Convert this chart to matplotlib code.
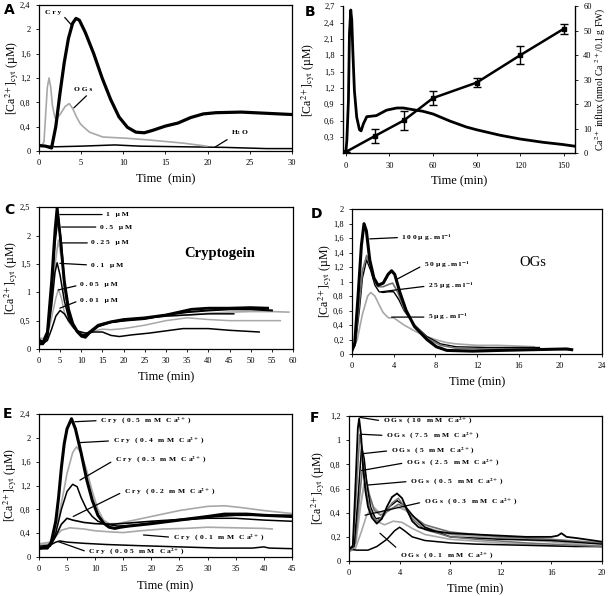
import matplotlib
matplotlib.use("Agg")
import matplotlib.pyplot as plt
from matplotlib.ticker import FuncFormatter

plt.rcParams['font.family'] = ['Liberation Serif', 'DejaVu Serif']
plt.rcParams['mathtext.fontset'] = 'stix'

GRAY = '#a8a8a8'
DARK = '#707070'

# ---------------- panel A : Cry / OGs / H2O
a_cry_t = [0, 0.8, 1.5, 2, 2.5, 3, 3.5, 4, 4.4, 4.8, 5.5, 6.5, 7.5, 8.5, 9.5, 10.5, 11.5, 12.5, 13.5, 15, 16.5, 18, 19.5, 21, 24, 27, 30]
a_cry_y = [0.09, 0.08, 0.05, 0.4, 0.95, 1.45, 1.85, 2.1, 2.18, 2.15, 1.95, 1.6, 1.2, 0.85, 0.56, 0.39, 0.31, 0.3, 0.34, 0.41, 0.46, 0.55, 0.61, 0.63, 0.64, 0.62, 0.6]
a_ogs_t = [0, 0.4, 0.6, 0.8, 1.0, 1.2, 1.4, 1.6, 1.9, 2.1, 2.6, 3.1, 3.6, 4.0, 4.5, 4.9, 5.5, 6.0, 7.6, 10.4, 13.2, 17.1, 19.9]
a_ogs_y = [0.09, 0.1, 0.15, 0.6, 1.05, 1.2, 1.05, 0.75, 0.55, 0.53, 0.62, 0.73, 0.78, 0.7, 0.55, 0.45, 0.37, 0.31, 0.23, 0.21, 0.18, 0.13, 0.08]
a_h2o_t = [0, 2, 5, 9, 12, 17, 22, 27, 30]
a_h2o_y = [0.09, 0.07, 0.08, 0.1, 0.08, 0.07, 0.06, 0.04, 0.04]

# ---------------- panel B : [Ca2+]cyt and Ca2+ influx
b_ca_t = [0, 0.7, 1.8, 2.5, 3.4, 4.1, 4.8, 5.9, 7.5, 9.4, 10.5, 12.1, 14.4, 21, 28, 35, 39.6, 46, 53, 60, 71.6, 83, 90, 106, 120, 135.6, 149, 157]
b_ca_y = [0.02, 0.23, 0.97, 2.2, 2.63, 2.44, 1.89, 1.15, 0.66, 0.43, 0.41, 0.54, 0.67, 0.69, 0.79, 0.83, 0.83, 0.8, 0.77, 0.72, 0.59, 0.48, 0.43, 0.33, 0.26, 0.2, 0.16, 0.13]
b_flux_t = [0, 20, 40, 60, 90, 120, 150]
b_flux_y = [0.5, 7, 13.4, 22.5, 28.8, 40, 50.8]
b_flux_err = [0, 3, 4, 3, 1.7, 3.8, 2]

# ---------------- panel C : cryptogein doses
c_1_t = [0, 1, 2, 3, 3.8, 4.3, 5, 6, 7, 8, 9, 10, 10.7, 12, 14, 17, 20, 25, 30, 33, 36, 40, 45, 50, 54]
c_1_y = [0.16, 0.12, 0.3, 1.2, 2.1, 2.5, 2.0, 1.2, 0.7, 0.45, 0.32, 0.25, 0.22, 0.3, 0.42, 0.48, 0.52, 0.55, 0.6, 0.65, 0.7, 0.72, 0.72, 0.73, 0.72]
c_05_t = [0, 1, 2, 3, 3.8, 4.5, 5.2, 6, 7, 8, 9, 10, 11, 12, 14, 17, 20, 25, 30, 35, 40, 45, 50, 55]
c_05_y = [0.1, 0.1, 0.25, 1.0, 1.9, 2.35, 1.9, 1.15, 0.65, 0.42, 0.3, 0.22, 0.2, 0.28, 0.4, 0.47, 0.5, 0.53, 0.6, 0.65, 0.68, 0.7, 0.7, 0.68]
c_025_t = [0, 1, 2, 3, 4, 4.6, 5.3, 6, 7, 8, 9, 10, 11, 12, 14, 17, 20, 25, 30, 35, 40, 45, 50, 55, 59]
c_025_y = [0.2, 0.18, 0.3, 0.9, 1.6, 1.92, 1.6, 1.0, 0.62, 0.42, 0.32, 0.27, 0.25, 0.3, 0.4, 0.48, 0.52, 0.55, 0.58, 0.6, 0.63, 0.65, 0.66, 0.66, 0.65]
c_01_t = [0, 1, 2, 3, 3.8, 4.3, 5, 6, 7, 8, 9, 10, 11, 12, 14, 17, 20, 25, 30, 35, 40, 46]
c_01_y = [0.08, 0.08, 0.2, 0.75, 1.35, 1.52, 1.3, 0.85, 0.55, 0.4, 0.3, 0.25, 0.25, 0.3, 0.4, 0.47, 0.5, 0.54, 0.58, 0.6, 0.62, 0.62]
c_005_t = [0, 1, 2, 3, 4, 4.6, 5.3, 6, 7, 8, 9, 10, 11, 13, 15, 17, 20, 25, 30, 35, 40, 45, 50, 57]
c_005_y = [0.12, 0.12, 0.22, 0.55, 0.9, 1.05, 0.9, 0.65, 0.48, 0.38, 0.32, 0.28, 0.28, 0.32, 0.35, 0.34, 0.36, 0.42, 0.5, 0.55, 0.52, 0.5, 0.5, 0.5]
c_001_t = [0, 1, 2, 3, 4, 5, 6, 7, 8, 9, 11, 13, 15, 17, 19, 22, 26, 30, 34, 40, 45, 52]
c_001_y = [0.1, 0.1, 0.15, 0.35, 0.58, 0.68, 0.62, 0.5, 0.4, 0.32, 0.28, 0.3, 0.3, 0.24, 0.22, 0.25, 0.28, 0.32, 0.36, 0.36, 0.33, 0.3]

# ---------------- panel D : OGs doses
d_100_t = [0, 0.26, 0.58, 0.9, 1.15, 1.38, 1.7, 2.1, 2.5, 3.0, 3.46, 3.8, 4.1, 4.6, 5.2, 6.0, 7.2, 8.1, 9.1, 11.6, 14.2, 17.4, 20.6, 21.1]
d_100_y = [0.05, 0.15, 0.8, 1.5, 1.8, 1.7, 1.3, 1.05, 0.95, 0.98, 1.1, 1.15, 1.1, 0.85, 0.6, 0.38, 0.2, 0.1, 0.05, 0.04, 0.05, 0.06, 0.07, 0.06]
d_50_t = [0, 0.3, 0.7, 1.0, 1.4, 1.8, 2.2, 2.5, 3.0, 3.5, 3.9, 4.4, 5.0, 6.0, 7.2, 8.5, 10, 13, 16, 19, 21]
d_50_y = [0.05, 0.15, 0.7, 1.15, 1.36, 1.2, 1.0, 0.93, 0.93, 0.96, 0.98, 0.85, 0.62, 0.4, 0.22, 0.12, 0.08, 0.07, 0.07, 0.07, 0.06]
d_25_t = [0, 0.3, 0.7, 1.0, 1.4, 1.8, 2.2, 2.6, 3.0, 3.5, 4.0, 4.5, 5.0, 6.0, 7.2, 8.5, 10, 13, 16, 18]
d_25_y = [0.05, 0.12, 0.6, 1.05, 1.3, 1.15, 0.95, 0.86, 0.85, 0.86, 0.86, 0.75, 0.6, 0.4, 0.24, 0.14, 0.1, 0.09, 0.09, 0.09]
d_5_t = [0, 0.5, 1, 1.5, 1.8, 2.2, 2.6, 3.0, 3.5, 4, 4.5, 5, 6, 7, 8, 9, 10, 12, 14, 16, 17.5]
d_5_y = [0.05, 0.2, 0.55, 0.8, 0.85, 0.8, 0.68, 0.57, 0.5, 0.5, 0.45, 0.4, 0.32, 0.25, 0.2, 0.16, 0.14, 0.12, 0.12, 0.11, 0.1]

# ---------------- panel E : Cry, external Ca2+
e_05_t = [0, 1.5, 2.2, 3, 3.5, 4, 4.5, 5, 5.8, 6.5, 7.5, 8.5, 9.5, 10.5, 11.5, 12.5, 13.5, 14.5, 16, 20, 25, 30, 33, 37, 40, 45]
e_05_y = [0.15, 0.15, 0.25, 0.6, 1.0, 1.5, 1.9, 2.15, 2.32, 2.15, 1.75, 1.3, 0.95, 0.7, 0.57, 0.5, 0.48, 0.5, 0.52, 0.56, 0.62, 0.68, 0.72, 0.72, 0.7, 0.68]
e_04_t = [0, 2, 3, 4, 5, 6, 6.7, 7.5, 8.5, 9.5, 10.5, 11.5, 12.5, 14, 16, 20, 25, 30, 33, 36, 40, 45]
e_04_y = [0.22, 0.25, 0.45, 0.9, 1.4, 1.75, 1.85, 1.75, 1.45, 1.1, 0.8, 0.62, 0.56, 0.56, 0.6, 0.68, 0.78, 0.85, 0.86, 0.83, 0.78, 0.73]
e_03_t = [0, 2, 3, 4, 5, 6, 6.8, 7.5, 8.5, 9.5, 10.5, 12, 14, 17, 20, 25, 30, 35, 40, 45]
e_03_y = [0.15, 0.2, 0.4, 0.8, 1.1, 1.22, 1.18, 1.0, 0.8, 0.68, 0.6, 0.55, 0.52, 0.53, 0.57, 0.62, 0.65, 0.65, 0.62, 0.6]
e_02_t = [0, 2, 3, 4, 5, 6, 8, 10, 13, 16, 20, 25, 30, 35, 40, 45]
e_02_y = [0.13, 0.18, 0.35, 0.55, 0.65, 0.62, 0.58, 0.56, 0.55, 0.57, 0.6, 0.63, 0.67, 0.7, 0.7, 0.7]
e_01_t = [0, 2, 3, 4, 5.5, 8, 10, 13, 15, 18, 22, 26, 30, 35, 40, 41.5]
e_01_y = [0.2, 0.22, 0.35, 0.45, 0.49, 0.47, 0.44, 0.42, 0.41, 0.44, 0.47, 0.48, 0.5, 0.49, 0.48, 0.47]
e_005_t = [0, 2, 3, 3.7, 5, 8, 12, 18, 25, 32, 38, 40, 41, 45]
e_005_y = [0.18, 0.2, 0.25, 0.27, 0.25, 0.23, 0.21, 0.19, 0.17, 0.15, 0.15, 0.17, 0.15, 0.14]

# ---------------- panel F : OGs, external Ca2+
f_10_t = [0, 0.3, 0.5, 0.7, 0.8, 0.95, 1.1, 1.3, 1.5, 1.8, 2.2, 2.6, 3.0, 3.4, 3.8, 4.2, 4.6, 5.0, 5.5, 6.5, 8, 10, 12, 14, 16, 16.5, 16.8, 17.2, 18, 20]
f_10_y = [0.1, 0.12, 0.6, 1.1, 1.18, 1.05, 0.8, 0.58, 0.45, 0.36, 0.31, 0.35, 0.45, 0.53, 0.56, 0.52, 0.42, 0.33, 0.28, 0.25, 0.23, 0.22, 0.21, 0.2, 0.2, 0.21, 0.23, 0.2, 0.19, 0.16]
f_75_t = [0, 0.3, 0.6, 0.85, 1.0, 1.2, 1.5, 1.8, 2.2, 2.8, 3.4, 3.9, 4.4, 5, 6, 8, 10, 14, 18, 20]
f_75_y = [0.08, 0.1, 0.6, 1.05, 0.95, 0.7, 0.5, 0.38, 0.33, 0.38, 0.48, 0.52, 0.45, 0.35, 0.26, 0.2, 0.18, 0.15, 0.13, 0.12]
f_5_t = [0, 0.4, 0.7, 1.0, 1.2, 1.4, 1.7, 2.1, 2.6, 3.2, 3.8, 4.4, 5, 6, 8, 12, 16, 20]
f_5_y = [0.1, 0.12, 0.5, 0.95, 0.85, 0.65, 0.45, 0.35, 0.36, 0.45, 0.5, 0.46, 0.38, 0.28, 0.2, 0.18, 0.17, 0.14]
f_25_t = [0, 0.5, 0.8, 1.1, 1.3, 1.6, 2, 2.5, 3.2, 3.9, 4.5, 5.2, 6, 8, 12, 16, 20]
f_25_y = [0.1, 0.15, 0.5, 0.8, 0.72, 0.55, 0.42, 0.38, 0.42, 0.47, 0.44, 0.36, 0.3, 0.24, 0.2, 0.18, 0.15]
f_05_t = [0, 0.5, 0.9, 1.2, 1.5, 1.9, 2.4, 3, 3.8, 4.5, 5.2, 6, 8, 12, 16, 20]
f_05_y = [0.08, 0.12, 0.45, 0.64, 0.58, 0.45, 0.4, 0.42, 0.45, 0.42, 0.35, 0.28, 0.22, 0.19, 0.16, 0.12]
f_03_t = [0, 0.5, 1.0, 1.4, 1.7, 2.2, 2.8, 3.5, 4.2, 5, 6, 8, 12, 16, 20]
f_03_y = [0.08, 0.1, 0.25, 0.38, 0.42, 0.33, 0.3, 0.33, 0.32, 0.27, 0.22, 0.18, 0.15, 0.13, 0.12]
f_01_t = [0, 0.6, 1.5, 2.2, 3, 3.6, 4.0, 4.4, 5, 6, 8, 10, 14, 18, 20]
f_01_y = [0.1, 0.09, 0.09, 0.12, 0.18, 0.25, 0.28, 0.25, 0.2, 0.17, 0.15, 0.14, 0.13, 0.12, 0.12]


def comma(v, pos):
    return f"{v:g}".replace('.', ',')


def spaced(s):
    # the printed labels are letter-spaced
    return " ".join(s)


def ca_lbl(conc, prefix):
    return spaced(f"{prefix} ({conc} mM Ca") + r"$^{\mathbf{2+}}$" + " )"


def setup(ax, xlim, xticks, ylim, yticks, ylab_x):
    ax.set_xlim(*xlim)
    ax.set_ylim(*ylim)
    ax.set_xticks(xticks)
    ax.set_yticks(yticks)
    ax.yaxis.set_major_formatter(FuncFormatter(comma))
    ax.tick_params(labelsize=6, length=2, width=0.6, pad=4)
    for sp in ax.spines.values():
        sp.set_linewidth(0.9)
    ax.set_xlabel('Time (min)', fontsize=9, labelpad=4)
    ax.set_ylabel(r'[Ca$^{2+}$]$_{\rm cyt}$ (µM)', fontsize=8.5)
    ax.yaxis.set_label_coords(ylab_x, 0.5)


def tag(ax, text, xy, xytext, rel=(0, 0.5), ha='left'):
    ax.annotate(text, xy=xy, xytext=xytext, fontsize=5.4, fontweight='bold',
                ha=ha, va='center',
                arrowprops=dict(arrowstyle='-', lw=0.9, color='k', relpos=rel,
                                shrinkA=1, shrinkB=0))


fig = plt.figure(figsize=(6.08, 5.96), dpi=100)

# ---- A
ax = fig.add_axes([0.064, 0.7466, 0.416, 0.245])
ax.plot(a_h2o_t, a_h2o_y, color='k', lw=1.1)
ax.plot(a_ogs_t, a_ogs_y, color=GRAY, lw=1.2)
ax.plot(a_cry_t, a_cry_y, color='k', lw=2.3)
setup(ax, (0, 30), range(0, 31, 5), (0, 2.4), [0, 0.4, 0.8, 1.2, 1.6, 2, 2.4], -0.072)
ax.set_xlabel('Time  (min)', fontsize=9, labelpad=4)
tag(ax, spaced('Cry'), (3.87, 2.07), (0.7, 2.28), rel=(1, 0.3))
tag(ax, spaced('OGs'), (4.15, 0.71), (4.15, 1.01), rel=(0.9, 0))
tag(ax, r'H$_{\mathbf{2}}$ O', (20.9, 0.066), (22.8, 0.30), rel=(0, 0))

# ---- B
ax = fig.add_axes([0.564, 0.743, 0.3816, 0.2466])
ax.plot(b_ca_t, b_ca_y, color='k', lw=2.0)
setup(ax, (-2, 157.6), range(0, 151, 30), (0, 2.7),
      [0.3, 0.6, 0.9, 1.2, 1.5, 1.8, 2.1, 2.4, 2.7], -0.112)
ax.spines['top'].set_visible(False)
ax2 = ax.twinx()
ax2.errorbar(b_flux_t, b_flux_y, yerr=b_flux_err, color='k', lw=1.8, marker='s', ms=3,
             capsize=3, elinewidth=1.0, capthick=1.0)
ax2.set_ylim(0, 60)
ax2.set_yticks(range(0, 61, 10))
ax2.tick_params(labelsize=6, length=2, width=0.6, pad=4)
ax2.spines['top'].set_visible(False)
ax2.set_ylabel(r'Ca$^{2+}$ influx (nmol Ca $^{2+}$/0.1 g FW)', fontsize=7)
ax2.yaxis.set_label_coords(1.08, 0.5)

# ---- C
ax = fig.add_axes([0.064, 0.4144, 0.418, 0.238])
ax.plot(c_005_t, c_005_y, color=GRAY, lw=1.1)
ax.plot(c_025_t, c_025_y, color=GRAY, lw=1.2)
ax.plot(c_001_t, c_001_y, color='k', lw=1.1)
ax.plot(c_01_t, c_01_y, color='k', lw=1.1)
ax.plot(c_05_t, c_05_y, color='k', lw=1.5)
ax.plot(c_1_t, c_1_y, color='k', lw=2.0)
setup(ax, (0, 60), range(0, 61, 5), (0, 2.5), [0, 0.5, 1, 1.5, 2, 2.5], -0.074)
tag(ax, spaced('1 µM'), (4.95, 2.37), (15.9, 2.37))
tag(ax, spaced('0.5 µM'), (5.35, 2.15), (14.4, 2.15))
tag(ax, spaced('0.25 µM'), (5.35, 1.87), (12.4, 1.87))
tag(ax, spaced('0.1 µM'), (4.95, 1.51), (12.2, 1.48))
tag(ax, spaced('0.05 µM'), (4.56, 1.04), (9.7, 1.13))
tag(ax, spaced('0.01 µM'), (4.95, 0.72), (9.7, 0.86))
ax.text(42.6, 1.69, 'Cryptogein', fontsize=10.5, fontweight='bold', ha='center', va='center')

# ---- D
ax = fig.add_axes([0.579, 0.406, 0.411, 0.243])
ax.plot(d_5_t, d_5_y, color=GRAY, lw=1.2)
ax.plot(d_25_t, d_25_y, color='k', lw=1.0)
ax.plot(d_50_t, d_50_y, color=DARK, lw=1.2)
ax.plot(d_100_t, d_100_y, color='k', lw=2.2)
setup(ax, (0, 24), range(0, 25, 4), (0, 2),
      [0, 0.2, 0.4, 0.6, 0.8, 1, 1.2, 1.4, 1.6, 1.8, 2], -0.072)
ugml = r' µ g . m l$^{\mathbf{-1}}$'
tag(ax, spaced('100') + ugml, (1.7, 1.59), (4.75, 1.61))
tag(ax, spaced('50') + ugml, (4.27, 1.03), (6.9, 1.23))
tag(ax, spaced('25') + ugml, (2.8, 0.86), (7.3, 0.94))
tag(ax, '5' + ugml, (3.8, 0.51), (7.3, 0.51))
ax.text(17.4, 1.26, 'OGs', fontsize=10.5, ha='center', va='center')

# ---- E
ax = fig.add_axes([0.064, 0.0654, 0.416, 0.24])
ax.plot(e_01_t, e_01_y, color=GRAY, lw=1.2)
ax.plot(e_04_t, e_04_y, color=GRAY, lw=1.2)
ax.plot(e_005_t, e_005_y, color='k', lw=1.1)
ax.plot(e_02_t, e_02_y, color='k', lw=1.2)
ax.plot(e_03_t, e_03_y, color='k', lw=1.1)
ax.plot(e_05_t, e_05_y, color='k', lw=2.2)
setup(ax, (0, 45), range(0, 46, 5), (0, 2.4), [0, 0.4, 0.8, 1.2, 1.6, 2, 2.4], -0.08)
ax.xaxis.labelpad = 5
tag(ax, ca_lbl('0.5', 'Cry'), (6.4, 2.27), (10.9, 2.29))
tag(ax, ca_lbl('0.4', 'Cry'), (7.3, 1.92), (13.1, 1.95))
tag(ax, ca_lbl('0.3', 'Cry'), (7.3, 1.29), (13.5, 1.63))
tag(ax, ca_lbl('0.2', 'Cry'), (6.1, 0.68), (15.1, 1.10))
tag(ax, ca_lbl('0.1', 'Cry'), (18.6, 0.37), (23.8, 0.33))
tag(ax, ca_lbl('0.05', 'Cry'), (3.4, 0.26), (8.8, 0.08))

# ---- F
ax = fig.add_axes([0.574, 0.0587, 0.416, 0.243])
ax.plot(f_03_t, f_03_y, color=GRAY, lw=1.2)
ax.plot(f_05_t, f_05_y, color=GRAY, lw=1.4)
ax.plot(f_25_t, f_25_y, color=DARK, lw=1.2)
ax.plot(f_01_t, f_01_y, color='k', lw=1.1)
ax.plot(f_5_t, f_5_y, color='k', lw=1.1)
ax.plot(f_75_t, f_75_y, color=DARK, lw=1.1)
ax.plot(f_10_t, f_10_y, color='k', lw=1.3)
setup(ax, (0, 20), range(0, 21, 4), (0, 1.2), [0, 0.2, 0.4, 0.6, 0.8, 1, 1.2], -0.085)
ax.xaxis.labelpad = 4
tag(ax, ca_lbl('10', 'OGs'), (0.87, 1.19), (2.66, 1.16))
tag(ax, ca_lbl('7.5', 'OGs'), (1.0, 1.05), (2.93, 1.04))
tag(ax, ca_lbl('5', 'OGs'), (1.13, 0.89), (3.3, 0.915))
tag(ax, ca_lbl('2.5', 'OGs'), (1.0, 0.75), (4.5, 0.815))
tag(ax, ca_lbl('0.5', 'OGs'), (1.53, 0.63), (4.83, 0.66))
tag(ax, ca_lbl('0.3', 'OGs'), (1.27, 0.38), (5.9, 0.49))
tag(ax, ca_lbl('0.1', 'OGs'), (2.45, 0.23), (4.0, 0.044), rel=(0, 1))

for letter, x, y in [('A', 0.016, 0.983), ('B', 0.51, 0.98), ('C', 0.015, 0.647),
                     ('D', 0.52, 0.641), ('E', 0.013, 0.305), ('F', 0.518, 0.298)]:
    fig.text(x, y, letter, fontsize=10, fontweight='bold', family='DejaVu Sans',
             ha='center', va='center')

fig.savefig('out.png', dpi=100)
